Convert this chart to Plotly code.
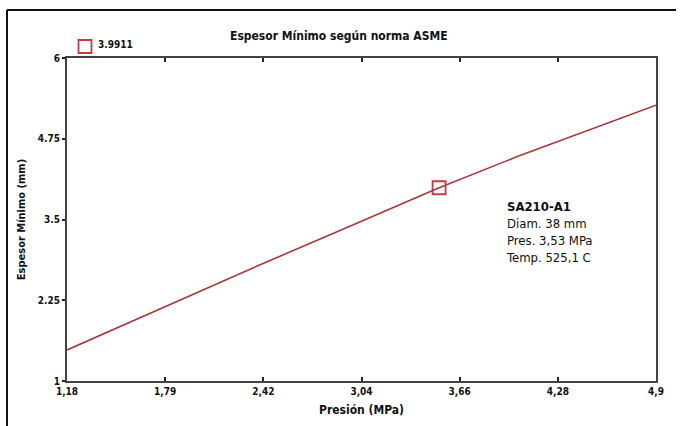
import plotly.graph_objects as go

# Data
presion = [1.18, 1.94, 2.40, 2.97, 3.53, 4.02, 4.90]
espesor = [1.48, 2.31, 2.80, 3.40, 3.99, 4.47, 5.27]
punto_x = [3.53]
punto_y = [3.9911]
punto_label = "3.9911"

x_tickvals = [1.18, 1.80, 2.42, 3.04, 3.66, 4.28, 4.90]
x_ticktext = ["1,18", "1,79", "2,42", "3,04", "3,66", "4,28", "4,9"]
y_tickvals = [1, 2.25, 3.5, 4.75, 6]
y_ticktext = ["1", "2.25", "3.5", "4.75", "6"]

W, H = 686, 426
ML, MR, MT, MB = 67, 30, 58, 45
pw, ph = W - ML - MR, H - MT - MB

def px_x(p):
    return (p - ML) / pw

def px_y(p):
    return (H - MB - p) / ph

FAM = "DejaVu Sans Condensed, DejaVu Sans"

fig = go.Figure()
fig.add_trace(go.Scatter(x=presion, y=espesor, mode="lines",
                         line=dict(color="#a8383a", width=1.6),
                         showlegend=False, hoverinfo="skip"))
fig.add_trace(go.Scatter(x=punto_x, y=punto_y, mode="markers",
                         marker=dict(symbol="square-open", size=13,
                                     color="#c8383c", line=dict(width=1.8)),
                         name=" ", showlegend=True))

fig.update_layout(
    width=W, height=H,
    margin=dict(l=ML, r=MR, t=MT, b=MB),
    paper_bgcolor="white", plot_bgcolor="white",
    showlegend=True,
    legend=dict(x=px_x(65), y=px_y(32), xanchor="left", yanchor="top",
                bgcolor="rgba(0,0,0,0)", font=dict(family=FAM, size=10, color="#111"),
                itemwidth=30, tracegroupgap=0),
    xaxis=dict(range=[1.18, 4.9], tickvals=x_tickvals, ticktext=x_ticktext,
               showgrid=False, zeroline=False, showline=True, linecolor="#444",
               linewidth=2, mirror="ticks", ticks="inside", ticklen=4,
               tickcolor="#222", tickwidth=1.5,
               tickfont=dict(family=FAM, size=10, color="#111", weight="bold"),
               title=dict(text="<b>Presión (MPa)</b>",
                          font=dict(family=FAM, size=12, color="#111"),
                          standoff=10)),
    yaxis=dict(range=[1, 6], tickvals=y_tickvals, ticktext=y_ticktext,
               showgrid=False, zeroline=False, showline=True, linecolor="#444",
               linewidth=2, mirror=True, ticks="outside", ticklen=3,
               tickcolor="#222", tickwidth=1.5,
               tickfont=dict(family=FAM, size=10, color="#111", weight="bold"),
               title=dict(text="<b>Espesor Mínimo (mm)</b>",
                          font=dict(family=FAM, size=11, color="#111"),
                          standoff=10)),
    font=dict(family=FAM),
)

fig.add_annotation(text="<b>" + punto_label + "</b>", xref="paper", yref="paper",
                   x=px_x(96), y=px_y(45), xanchor="left", yanchor="middle",
                   showarrow=False, font=dict(family=FAM, size=10, color="#111"))

fig.add_annotation(text="<b>Espesor Mínimo según norma ASME</b>", xref="paper", yref="paper",
                   x=px_x(339), y=px_y(36), xanchor="center", yanchor="middle",
                   showarrow=False, font=dict(family=FAM, size=12, color="#111"))

fig.add_annotation(text="<b>SA210-A1</b><br>Diam. 38 mm<br>Pres. 3,53 MPa<br>Temp. 525,1 C",
                   xref="paper", yref="paper", x=px_x(504), y=px_y(197),
                   xanchor="left", yanchor="top", align="left", showarrow=False,
                   font=dict(family=FAM, size=13, color="#111"))

# outer frame (left and top edges only visible)
fig.add_shape(type="line", xref="paper", yref="paper",
              x0=px_x(7), x1=px_x(7), y0=px_y(H + 5), y1=px_y(10),
              line=dict(color="#111", width=2), layer="below")
fig.add_shape(type="line", xref="paper", yref="paper",
              x0=px_x(7), x1=px_x(676), y0=px_y(10), y1=px_y(10),
              line=dict(color="#111", width=2), layer="below")

fig.write_html("out.html")
